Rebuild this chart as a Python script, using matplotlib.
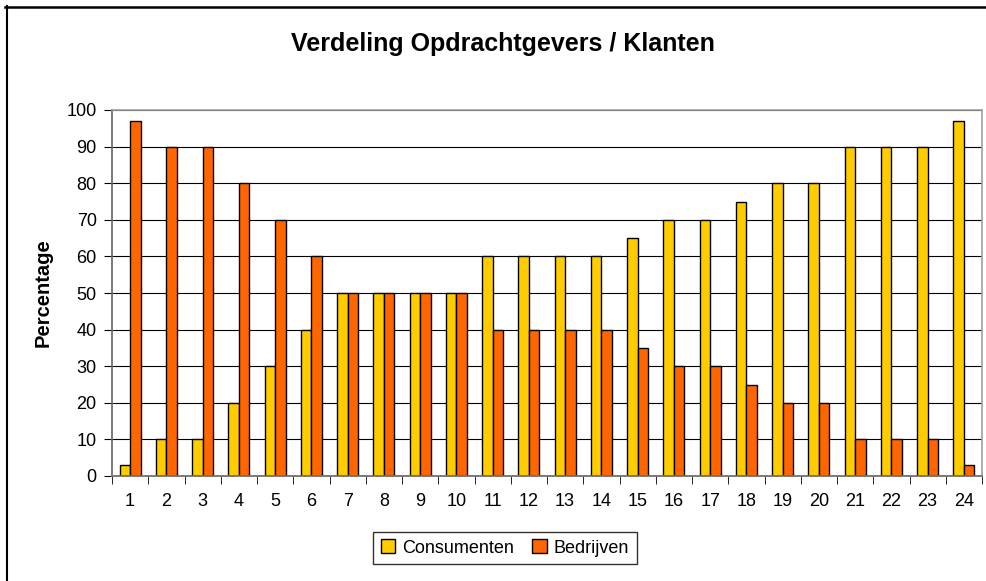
import matplotlib
matplotlib.use("Agg")
import matplotlib.pyplot as plt
import numpy as np
from matplotlib.lines import Line2D

plt.rcParams['font.family'] = ['Liberation Sans', 'DejaVu Sans']

categories = [str(i) for i in range(1, 25)]
consumenten = [3, 10, 10, 20, 30, 40, 50, 50, 50, 50, 60, 60, 60, 60, 65, 70, 70, 75, 80, 80, 90, 90, 90, 97]
bedrijven = [97, 90, 90, 80, 70, 60, 50, 50, 50, 50, 40, 40, 40, 40, 35, 30, 30, 25, 20, 20, 10, 10, 10, 3]
yticks = list(range(0, 101, 10))

W, H = 986, 581
fig = plt.figure(figsize=(W/100, H/100), dpi=100)
# outer chart border (top and left visible)
fig.add_artist(Line2D([5/W, 1.0], [1 - 6.5/H, 1 - 6.5/H], transform=fig.transFigure,
                      color='black', linewidth=1.8))
fig.add_artist(Line2D([6.5/W, 6.5/W], [0.0, 1 - 6/H], transform=fig.transFigure,
                      color='black', linewidth=1.5))

ax = fig.add_axes([112/W, 1 - 476/H, (982-112)/W, (476-110)/H])

x = np.arange(len(categories))
w = 0.29
ax.bar(x - w/2, consumenten, w, color='#FFCC00', edgecolor='black', linewidth=1, label='Consumenten', zorder=3)
ax.bar(x + w/2, bedrijven, w, color='#FF6600', edgecolor='black', linewidth=1, label='Bedrijven', zorder=3)

ax.set_xlim(-0.5, len(categories) - 0.5)
ax.set_ylim(0, 100)
ax.set_yticks(yticks)
ax.set_yticklabels([str(v) for v in yticks], fontsize=13)
ax.yaxis.grid(True, color='black', linewidth=0.8, zorder=0)
ax.set_axisbelow(True)

ax.set_xticks(x)
ax.set_xticklabels(categories, fontsize=13)
ax.tick_params(axis='x', which='major', length=0, pad=12)
ax.set_xticks(np.arange(-0.5, len(categories), 1.0), minor=True)
ax.tick_params(axis='x', which='minor', length=6, direction='out', color='black')
ax.tick_params(axis='y', length=6, direction='out', pad=5)

for s in ['top', 'right']:
    ax.spines[s].set_color('#A0A0A0')
    ax.spines[s].set_linewidth(1.2)
    ax.spines[s].set_zorder(4)
for s in ['left', 'bottom']:
    ax.spines[s].set_color('#707070')
    ax.spines[s].set_linewidth(1.3)
    ax.spines[s].set_zorder(4)

ax.set_ylabel('Percentage', fontsize=14.5, fontweight='bold', labelpad=10)
fig.text(503/W, 1 - 44/H, 'Verdeling Opdrachtgevers / Klanten', ha='center', va='center',
         fontsize=18, fontweight='bold')

leg = ax.legend(loc='center', bbox_to_anchor=(505/W, 1 - 548/H), bbox_transform=fig.transFigure,
                ncol=2, frameon=True, fancybox=False, edgecolor='black', fontsize=13,
                handlelength=0.8, handleheight=0.8, handletextpad=0.4, columnspacing=1.0,
                borderpad=0.4)
leg.get_frame().set_linewidth(1.0)

fig.savefig('out.png', dpi=100)
